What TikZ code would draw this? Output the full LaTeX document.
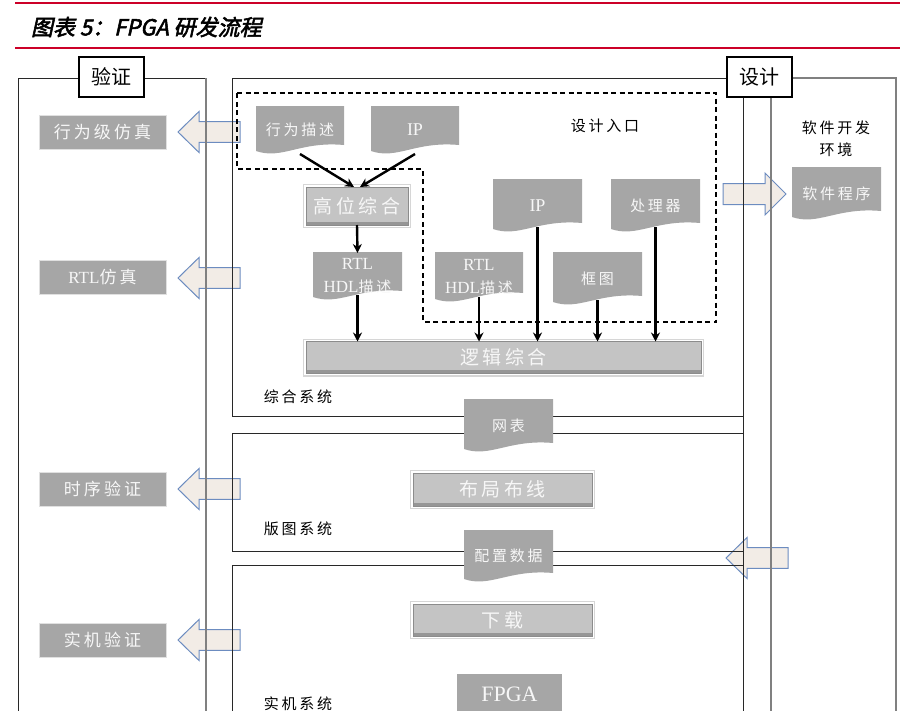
\documentclass[tikz,border=0pt]{standalone}
\usepackage{fontspec}
\setmainfont{Liberation Serif}
\newfontfamily\cjk{Noto Sans CJK SC}
\newfontfamily\cjkls{Noto Sans CJK SC}[LetterSpace=18]
\newfontfamily\cjkt{Noto Sans CJK SC}[FakeSlant=0.22,FakeBold=2.5]
\usetikzlibrary{arrows.meta}
\newcommand\fs[1]{\fontsize{#1}{#1}\selectfont}
\newcommand\zh[1]{{\cjkls #1}}
\definecolor{docgray}{RGB}{166,166,166}
\definecolor{btnfill}{RGB}{196,196,196}
\definecolor{btnedge}{RGB}{140,140,140}
\definecolor{btndark}{RGB}{150,150,150}
\definecolor{arrfill}{RGB}{242,236,230}
\definecolor{arredge}{RGB}{108,140,192}
\definecolor{redrule}{RGB}{204,0,40}
\definecolor{lndark}{RGB}{40,40,40}
\definecolor{lngray}{RGB}{128,128,128}
\definecolor{txtw}{RGB}{247,247,247}
\pgfdeclarelayer{arrowsL}
\pgfdeclarelayer{linesL}
\pgfdeclarelayer{shapesL}
\pgfsetlayers{arrowsL,linesL,shapesL,main}
\newcommand\docbg[1]{%
  \begin{pgfonlayer}{shapesL}
  \fill[docgray] (#1.north west) -- (#1.north east) -- ([yshift=9pt]#1.south east)
    .. controls ([xshift=-44pt,yshift=13pt]#1.south east) and ([xshift=26pt,yshift=-6pt]#1.south west)
    .. ([yshift=3pt]#1.south west) -- cycle;
  \end{pgfonlayer}}
\tikzset{
  every node/.style={inner sep=0pt,outer sep=0pt},
  redrulestyle/.style={draw=redrule,line width=1.5pt},
  darkline/.style={draw=lndark,line width=1pt},
  grayline/.style={draw=lngray,line width=1.2pt},
  dashreg/.style={draw=black,line width=1.3pt,dash pattern=on 5pt off 3.5pt},
  tagbox/.style={draw=black,line width=2pt,fill=white,minimum width=65pt,minimum height=40pt,font=\fs{20}},
  vbox/.style={fill=docgray,draw=white!88!black,line width=0.6pt,minimum width=127pt,minimum height=34pt,text=txtw,font=\fs{17}},
  docnode/.style={text=txtw,font=\fs{15}},
  sysl/.style={text=black,font=\fs{15}},
  btn/.style={fill=btnfill,draw=btnedge,line width=0.8pt,text=txtw,font=\fs{19},
    preaction={draw=black!16,line width=6pt},
    preaction={draw=white,line width=3.6pt},
    path picture={\fill[btndark] ([yshift=3.5pt]path picture bounding box.south west) rectangle (path picture bounding box.south east);}},
  flow/.style={draw=black,line width=2.4pt,-{Stealth[length=9pt,width=9pt]}},
  barrow/.style={fill=arrfill,draw=arredge,line width=1pt},
  larr/.pic={\path[barrow] (0,0) -- (21,-20.5) -- (21,-10.3) -- (62,-10.3) -- (62,10.3) -- (21,10.3) -- (21,20.5) -- cycle;},
  rarr/.pic={\path[barrow] (0,-10.5) -- (42,-10.5) -- (42,-21) -- (63,0) -- (42,21) -- (42,10.5) -- (0,10.5) -- cycle;}
}
\begin{document}
\begin{tikzpicture}[x=1pt,y=-1pt]
\useasboundingbox (0,0) rectangle (923,710);

% title
\coordinate (r1a) at (15,3); \coordinate (r1b) at (900,3);
\coordinate (r2a) at (15,48); \coordinate (r2b) at (900,48);
\draw[redrulestyle] (r1a) -- (r1b);
\draw[redrulestyle] (r2a) -- (r2b);
\node[anchor=west,font=\fs{22}] (title) at (31,27) {\cjkt 图表 5：FPGA 研发流程};

% block arrows
\begin{pgfonlayer}{arrowsL}
\pic (a1) at (178,132) {larr};
\pic (a2) at (178,278) {larr};
\pic (a3) at (178,489) {larr};
\pic (a4) at (178,640) {larr};
\pic (a5) at (726,558) {larr};
\pic (a6) at (723,194) {rarr};
\end{pgfonlayer}

% frames
\begin{pgfonlayer}{linesL}
\draw[darkline] (206,78) -- (18,78) -- (18,715);
\draw[grayline] (206,78) -- (206,715);
\draw[darkline] (232,78) rectangle (743,416);
\draw[darkline] (232,433) rectangle (743,551);
\draw[darkline] (232,565) rectangle (743,720);
\draw[darkline] (743,78) -- (743,715);
\draw[grayline] (743,78) -- (896,78) -- (896,715);
\draw[grayline] (771,78) -- (771,715);
\draw[dashreg] (237,93) -- (716,93) -- (716,322) -- (423,322) -- (423,169) -- (237,169) -- cycle;
\end{pgfonlayer}

% tags
\node[tagbox] (yz) at (111.5,77) {\cjk 验证};
\node[tagbox] (sj) at (759,77) {\cjk 设计};

% verification boxes
\node[vbox] (v1) at (102.5,132) {\zh{行为级仿真}};
\node[vbox] (v2) at (102.5,277) {RTL\zh{仿真}};
\node[vbox] (v3) at (102.5,489) {\zh{时序验证}};
\node[vbox] (v4) at (102.5,640) {\zh{实机验证}};

% design entry
\node[sysl] (entry) at (605,126) {\zh{设计入口}};
\node[docnode,minimum width=88pt,minimum height=48pt] (bhv) at (300,130) {\zh{行为描述}}; \docbg{bhv}
\node[docnode,minimum width=88pt,minimum height=48pt,font=\fs{18}] (ip1) at (415,130) {IP}; \docbg{ip1}
\node[btn,minimum width=102pt,minimum height=38pt] (hls) at (357,206) {\zh{高位综合}};
\node[docnode,minimum width=89pt,minimum height=48pt,align=center,font=\fontsize{17}{23}\selectfont] (rtl1) at (357.5,276) {RTL\\HDL{\fontsize{15}{23}\selectfont\zh{描述}}}; \docbg{rtl1}
\node[docnode,minimum width=88pt,minimum height=50pt,align=center,font=\fontsize{17}{23}\selectfont] (rtl2) at (479,277) {RTL\\HDL{\fontsize{15}{23}\selectfont\zh{描述}}}; \docbg{rtl2}
\node[docnode,minimum width=89pt,minimum height=53pt,font=\fs{18}] (ip2) at (537.5,205.5) {IP}; \docbg{ip2}
\node[docnode,minimum width=89pt,minimum height=53pt] (cpu) at (655.5,205.5) {\zh{处理器}}; \docbg{cpu}
\node[docnode,minimum width=89pt,minimum height=53pt] (kt) at (597.5,278.5) {\zh{框图}}; \docbg{kt}
\node[btn,minimum width=395pt,minimum height=32pt] (syn) at (503.5,357.5) {\zh{逻辑综合}};
\node[sysl] (s1) at (298,397) {\zh{综合系统}};

% flows
\draw[flow] (bhv.south) -- ([xshift=-3pt]hls.north);
\draw[flow] (ip1.south) -- ([xshift=3pt]hls.north);
\draw[flow] (hls.south) -- ([yshift=-1pt]rtl1.north);
\draw[flow] ([yshift=5pt]rtl1.south) -- (rtl1.south |- syn.north);
\draw[flow] ([yshift=5pt]rtl2.south) -- (rtl2.south |- syn.north);
\draw[flow] ([yshift=5pt]ip2.south) -- (ip2.south |- syn.north);
\draw[flow] ([yshift=5pt]kt.south) -- (kt.south |- syn.north);
\draw[flow] ([yshift=5pt]cpu.south) -- (cpu.south |- syn.north);

% layout system
\node[docnode,minimum width=89pt,minimum height=53pt] (net) at (508.5,425.5) {\zh{网表}}; \docbg{net}
\node[btn,minimum width=179pt,minimum height=33pt] (pnr) at (502.5,489.5) {\zh{布局布线}};
\node[sysl] (s2) at (298,529) {\zh{版图系统}};
\node[docnode,minimum width=89pt,minimum height=52pt] (cfg) at (508.5,556) {\zh{配置数据}}; \docbg{cfg}

% board system
\node[btn,minimum width=179pt,minimum height=32pt] (dl) at (502.5,620) {\zh{下载}};
\node[fill=docgray,text=txtw,font=\fs{22},minimum width=105pt,minimum height=40pt] (fpga) at (509.5,694) {FPGA};
\node[sysl] (s3) at (298,704) {\zh{实机系统}};

% software environment
\node[sysl,align=center,font=\fontsize{15}{22}\selectfont] (swenv) at (836,139) {\zh{软件开发}\\\zh{环境}};
\node[docnode,minimum width=89pt,minimum height=53pt] (sw) at (836.5,193.5) {\zh{软件程序}}; \docbg{sw}
\end{tikzpicture}
\end{document}
